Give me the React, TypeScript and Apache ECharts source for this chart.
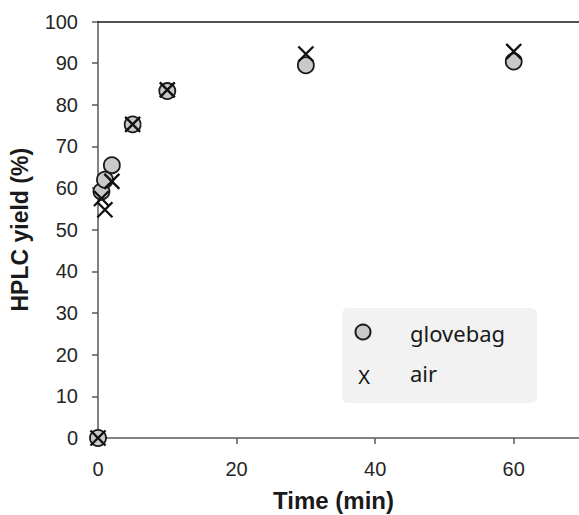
import React, { useEffect, useRef } from "react";
import * as echarts from "echarts";

const times = [0, 0.5, 1, 2, 5, 10, 30, 60];
const glovebag = [0, 59.2, 62, 65.5, 75.3, 83.3, 89.5, 90.4];
const air = [0, 57.5, 54.8, 61.6, 75.3, 83.6, 92.2, 92.8];
const seriesNames = ["glovebag", "air"];
const xTitle = "Time (min)";
const yTitle = "HPLC yield (%)";

const crossPath = "path://M0,0L10,10M10,0L0,10";

export default function App() {
  const ref = useRef<HTMLDivElement>(null);
  useEffect(() => {
    if (!ref.current) return;
    const chart = echarts.init(ref.current, undefined, { renderer: "svg" });
    const axisFont = "'Liberation Sans', Arial, sans-serif";
    chart.setOption({
      animation: false,
      backgroundColor: "#ffffff",
      grid: {
        left: 98,
        right: -4,
        top: 21.5,
        bottom: 77,
        containLabel: false,
        outerBoundsMode: "none",
      },
      xAxis: [
        {
          type: "value",
          min: 0,
          max: 70,
          interval: 20,
          name: xTitle,
          nameLocation: "middle",
          nameGap: 50,
          nameTextStyle: {
            fontFamily: axisFont,
            fontWeight: "bold",
            fontSize: 24,
            color: "#1a1a1a",
            padding: [0, 14, 0, 0],
          },
          axisLine: { show: true, lineStyle: { color: "#595959", width: 1.5 } },
          axisTick: { show: true, length: 6, lineStyle: { color: "#595959", width: 1.5 } },
          axisLabel: {
            fontFamily: axisFont,
            fontSize: 20,
            color: "#262626",
            margin: 21,
            showMaxLabel: false,
            formatter: (v: number) => (v === 70 ? "" : String(v)),
          },
          splitLine: { show: false },
        },
        {
          type: "value",
          position: "top",
          min: 0,
          max: 70,
          axisLine: { show: true, onZero: false, lineStyle: { color: "#1a1a1a", width: 1.5 } },
          axisTick: { show: false },
          axisLabel: { show: false },
          splitLine: { show: false },
        },
      ],
      yAxis: {
        type: "value",
        min: 0,
        max: 100,
        interval: 10,
        name: yTitle,
        nameLocation: "middle",
        nameGap: 67,
        nameRotate: 90,
        nameTextStyle: { fontFamily: axisFont, fontWeight: "bold", fontSize: 23, color: "#1a1a1a" },
        axisLine: { show: true, lineStyle: { color: "#595959", width: 1.5 } },
        axisTick: { show: true, length: 6, lineStyle: { color: "#595959", width: 1.5 } },
        axisLabel: { fontFamily: axisFont, fontSize: 20, color: "#262626", margin: 20 },
        splitLine: { show: false },
      },
      series: [
        {
          name: seriesNames[0],
          type: "scatter",
          xAxisIndex: 0,
          data: times.map((t, i) => [t, glovebag[i]]),
          symbol: "circle",
          symbolSize: 16,
          itemStyle: { color: "#c9c9c9", borderColor: "#1a1a1a", borderWidth: 1.8, opacity: 1 },
          z: 2,
        },
        {
          name: seriesNames[1],
          type: "scatter",
          xAxisIndex: 0,
          data: times.map((t, i) => [t, air[i]]),
          symbol: crossPath,
          symbolSize: 15,
          itemStyle: { color: "none", borderColor: "#111111", borderWidth: 2.4, opacity: 1 },
          z: 3,
        },
      ],
      graphic: [
        {
          type: "rect",
          shape: { x: 342, y: 308, width: 195, height: 95, r: 6 },
          style: { fill: "#f2f2f2" },
          z: 10,
        },
        {
          type: "circle",
          shape: { cx: 363, cy: 332, r: 7.5 },
          style: { fill: "#c9c9c9", stroke: "#1a1a1a", lineWidth: 2 },
          z: 11,
        },
        {
          type: "text",
          x: 410,
          y: 333,
          style: {
            text: seriesNames[0],
            font: "22px 'Noto Sans', sans-serif",
            fill: "#1a1a1a",
            verticalAlign: "middle",
            align: "left",
          },
          z: 11,
        },
        {
          type: "text",
          x: 364,
          y: 376,
          style: {
            text: "X",
            font: "20px 'Noto Sans', sans-serif",
            fill: "#111111",
            verticalAlign: "middle",
            align: "center",
          },
          z: 11,
        },
        {
          type: "text",
          x: 410,
          y: 373,
          style: {
            text: seriesNames[1],
            font: "22px 'Noto Sans', sans-serif",
            fill: "#1a1a1a",
            verticalAlign: "middle",
            align: "left",
          },
          z: 11,
        },
      ],
    });
    return () => chart.dispose();
  }, []);
  return (
    <div
      ref={ref}
      style={{ position: "fixed", left: 0, top: 0, width: 579, height: 515 }}
    />
  );
}
